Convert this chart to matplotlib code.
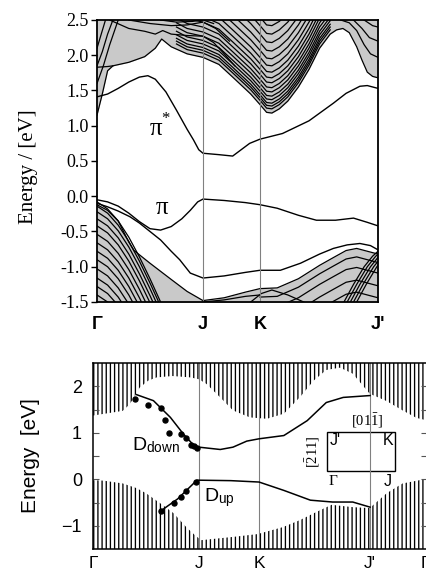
import numpy as np
import matplotlib
matplotlib.use("Agg")
import matplotlib.pyplot as plt
from matplotlib.patches import Rectangle

plt.rcParams['font.family'] = ['Liberation Sans', 'DejaVu Sans']
plt.rcParams['mathtext.fontset'] = 'custom'
plt.rcParams['mathtext.rm'] = 'Liberation Serif'
plt.rcParams['mathtext.it'] = 'Liberation Serif:italic'
plt.rcParams['mathtext.sf'] = 'Liberation Sans'
plt.rcParams['hatch.linewidth'] = 0.95
SERIF = ['Liberation Serif', 'DejaVu Serif']
GRAY = '#c9c9c9'

# ---------------- top panel: calculated bands ----------------
top_ticks = [0.0, 1.0, 1.538, 2.651]
top_labels = ['Γ', 'J', 'K', "J'"]

# lower edge of the upper projected continuum
k_bup = [0, 0.05, 0.1, 0.15, 0.3, 0.45, 0.55, 0.61, 0.7, 0.85, 1.0, 1.15, 1.28,
         1.45, 1.538, 1.6, 1.65, 1.72, 1.8, 1.9, 2.0, 2.1, 2.2, 2.26, 2.32, 2.38,
         2.45, 2.5, 2.55, 2.6, 2.651]
e_bup = [1.15, 1.45, 1.78, 1.85, 1.9, 1.98, 2.1, 2.23, 2.12, 2.02, 1.97, 1.87, 1.69,
         1.45, 1.3, 1.19, 1.18, 1.24, 1.35, 1.55, 1.8, 2.1, 2.3, 2.36, 2.38, 2.32,
         2.12, 1.93, 1.76, 1.7, 1.68]
# upper edge of the lower projected continuum
k_blo = [0, 0.1, 0.2, 0.3, 0.35, 0.5, 0.7, 0.85, 1.0, 1.2, 1.4, 1.538, 1.7, 1.9,
         2.1, 2.23, 2.35, 2.45, 2.55, 2.651]
e_blo = [-0.12, -0.2, -0.35, -0.65, -0.77, -0.95, -1.18, -1.35, -1.48, -1.44, -1.36,
         -1.31, -1.3, -1.17, -0.98, -0.87, -0.77, -0.74, -0.78, -0.82]

k_pistar = [0, 0.1, 0.2, 0.3, 0.4, 0.48, 0.55, 0.65, 0.75, 0.85, 0.91, 0.96, 1.0,
            1.15, 1.28, 1.44, 1.538, 1.75, 2.0, 2.23, 2.35, 2.48, 2.55, 2.651]
e_pistar = [1.41, 1.45, 1.53, 1.62, 1.69, 1.71, 1.66, 1.48, 1.22, 0.95, 0.8, 0.66, 0.61,
            0.59, 0.57, 0.75, 0.81, 0.89, 1.07, 1.32, 1.46, 1.56, 1.57, 1.53]
k_pi = [0, 0.1, 0.2, 0.3, 0.4, 0.5, 0.6, 0.7, 0.8, 0.88, 0.95, 1.0, 1.2, 1.4, 1.538,
        1.7, 1.9, 2.07, 2.25, 2.42, 2.55, 2.651]
e_pi = [-0.05, -0.08, -0.14, -0.24, -0.36, -0.46, -0.48, -0.43, -0.32, -0.2, -0.08,
        -0.04, -0.06, -0.09, -0.12, -0.17, -0.27, -0.34, -0.34, -0.31, -0.37, -0.42]
k_b2 = [0, 0.1, 0.2, 0.31, 0.4, 0.5, 0.6, 0.7, 0.78, 0.88, 1.0, 1.2, 1.4, 1.538,
        1.73, 1.92, 2.1, 2.23, 2.36, 2.48, 2.58, 2.651]
e_b2 = [-0.1, -0.15, -0.21, -0.29, -0.38, -0.5, -0.62, -0.78, -0.9, -1.09, -1.16,
        -1.13, -1.08, -1.05, -1.05, -0.95, -0.82, -0.74, -0.69, -0.67, -0.7, -0.76]

# band lines inside the continua
top_lines = [
    ([0, 0.06, 0.12, 0.2], [1.6, 1.85, 2.15, 2.5]),
    ([0, 0.05, 0.1, 0.15], [1.85, 2.05, 2.3, 2.5]),
    ([0, 0.04, 0.08], [2.1, 2.3, 2.5]),
    ([0, 0.1, 0.15], [1.83, 1.84, 1.85]),
    ([0.12, 0.3, 0.45, 0.55, 0.62, 0.7, 0.85, 1.0, 1.1, 1.2, 1.3],
     [2.5, 2.38, 2.34, 2.3, 2.35, 2.3, 2.28, 2.27, 2.18, 2.02, 1.85]),
    ([0.3, 0.5, 0.7, 0.85, 1.0, 1.12, 1.25],
     [2.5, 2.45, 2.42, 2.43, 2.47, 2.38, 2.2]),
    ([0.6, 0.75, 0.9, 1.0, 1.1], [2.5, 2.47, 2.48, 2.5, 2.45]),
    ([2.3, 2.38, 2.45, 2.52, 2.58, 2.651], [2.5, 2.46, 2.35, 2.15, 2.02, 1.97]),
    ([2.42, 2.5, 2.57, 2.651], [2.5, 2.38, 2.25, 2.2]),
    ([2.52, 2.6, 2.651], [2.5, 2.42, 2.4]),
    ([1.45, 1.55, 1.65, 1.8, 1.95], [-1.5, -1.38, -1.33, -1.4, -1.5]),
    ([1.0, 1.2, 1.4, 1.538], [-1.5, -1.47, -1.42, -1.4]),
]
# nested V-shaped bands around K (shifted copies of the continuum edge)
k_vee = [0.75, 0.85, 1.0, 1.15, 1.28, 1.45, 1.538, 1.6, 1.65, 1.72, 1.8, 1.9, 2.0, 2.1, 2.2]
e_vee = [2.1, 2.02, 1.97, 1.87, 1.69, 1.45, 1.3, 1.19, 1.18, 1.24, 1.35, 1.55, 1.8, 2.1, 2.3]
vee_shift = [0.06, 0.1, 0.14, 0.19, 0.24, 0.3, 0.36, 0.43, 0.5, 0.58, 0.67, 0.77, 0.88,
             1.0, 1.12, 1.24]
# steep bands falling from Gamma in the lower-left continuum
k_fall = [0, 0.1, 0.2, 0.3, 0.4, 0.5, 0.6]
e_fall = [-0.08, -0.18, -0.35, -0.58, -0.86, -1.17, -1.5]
fall_shift = [0, -0.06, -0.14, -0.24, -0.34, -0.46, -0.58, -0.7, -0.82, -0.95, -1.08,
              -1.2, -1.32]
# bands under the lower continuum edge right of K
low_shift = [-0.12, -0.27, -0.45, -0.62]
# steep bundle in the lower-right corner
k_rise = [2.33, 2.42, 2.52, 2.6, 2.651]
e_rise = [-1.5, -1.25, -1.0, -0.85, -0.78]
rise_shift = [0.0, 0.03, 0.06, 0.09, 0.12]

# ---------------- bottom panel: surface states ----------------
bot_ticks = [0.0, 1.0, 1.566, 2.613, 3.13]
bot_labels = ['Γ', 'J', 'K', "J'", 'Γ']

k_up_edge = [0, 0.28, 0.34, 0.38, 0.44, 0.52, 0.6, 0.75, 0.92, 1.0, 1.07, 1.2, 1.32,
             1.48, 1.64, 1.8, 1.95, 2.08, 2.2, 2.33, 2.45, 2.55, 2.61, 2.77, 2.92,
             3.05, 3.16]
e_up_edge = [1.37, 1.47, 1.6, 1.73, 1.97, 2.12, 2.19, 2.22, 2.19, 2.15, 2.05, 1.76,
             1.48, 1.33, 1.3, 1.41, 1.76, 2.12, 2.35, 2.4, 2.27, 2.0, 1.84, 1.68,
             1.48, 1.32, 1.26]
k_lo_edge = [0, 0.1, 0.28, 0.41, 0.5, 0.63, 0.76, 0.88, 0.96, 1.02, 1.32, 1.55, 1.79,
             1.95, 2.11, 2.25, 2.45, 2.61, 2.77, 2.92, 3.08, 3.16]
e_lo_edge = [-0.02, -0.03, -0.09, -0.19, -0.3, -0.51, -0.73, -1.03, -1.2, -1.31, -1.24,
             -1.18, -1.03, -0.88, -0.7, -0.55, -0.6, -0.62, -0.3, -0.09, -0.02, 0.0]

k_ddown = [0.41, 0.57, 0.73, 0.85, 0.95, 1.0, 1.2, 1.32, 1.45, 1.566, 1.8, 2.02, 2.2,
           2.36, 2.613]
e_ddown = [1.82, 1.69, 1.33, 0.98, 0.73, 0.69, 0.64, 0.69, 0.82, 0.87, 0.94, 1.26,
           1.65, 1.76, 1.8]
k_dup = [0.64, 0.8, 0.98, 1.0, 1.3, 1.566, 1.8, 2.05, 2.26, 2.45, 2.613]
e_dup = [-0.68, -0.42, -0.02, -0.02, -0.03, -0.06, -0.24, -0.45, -0.49, -0.49, -0.6]

k_dots_down = [0.40, 0.52, 0.64, 0.68, 0.72, 0.83, 0.88, 0.92, 0.95, 0.98]
e_dots_down = [1.73, 1.6, 1.54, 1.28, 0.99, 0.98, 0.88, 0.73, 0.71, 0.67]
k_dots_up = [0.64, 0.76, 0.83, 0.88, 0.97]
e_dots_up = [-0.68, -0.51, -0.38, -0.26, -0.06]

fig = plt.figure(figsize=(4.26, 5.73), dpi=100)

# ---- top axes ----
ax = fig.add_axes([97 / 426, 1 - 302 / 573, 281 / 426, 282 / 573])
ax.fill_between(k_bup, e_bup, 2.6, color=GRAY, lw=0)
ax.fill_between(k_blo, -1.6, e_blo, color=GRAY, lw=0)
lw = 0.9
for kk, ee in top_lines:
    ax.plot(kk, ee, color='k', lw=lw)
for d in vee_shift:
    ax.plot(k_vee, np.array(e_vee) + d, color='k', lw=lw)
for d in fall_shift:
    ax.plot(k_fall, np.array(e_fall) + d, color='k', lw=lw)
k_right = k_blo[11:]
for d in low_shift:
    ax.plot(k_right, np.array(e_blo[11:]) + d, color='k', lw=lw)
for d in rise_shift:
    ax.plot(np.array(k_rise) + d, e_rise, color='k', lw=lw)
ax.plot(k_bup, e_bup, color='k', lw=lw)
ax.plot(k_blo, e_blo, color='k', lw=lw)
ax.plot(k_pistar, e_pistar, color='k', lw=1.0)
ax.plot(k_pi, e_pi, color='k', lw=1.0)
ax.plot(k_b2, e_b2, color='k', lw=1.0)
for x in top_ticks[1:3]:
    ax.axvline(x, color='#808080', lw=0.8)
ax.text(0.56, 0.96, 'π', fontsize=18, ha='center', va='center', family=SERIF)
ax.text(0.645, 1.1, '*', fontsize=12, ha='center', va='center', family=SERIF)
ax.text(0.61, -0.16, 'π', fontsize=18, ha='center', va='center', family=SERIF)
ax.set_xlim(0, 2.651)
ax.set_ylim(-1.5, 2.5)
ax.set_xticks(top_ticks)
ax.set_xticklabels(top_labels, fontsize=13, fontweight='bold')
ax.set_yticks(np.arange(-1.5, 2.51, 0.5))
ax.set_yticklabels(['%.1f' % v for v in np.arange(-1.5, 2.51, 0.5)], fontsize=13,
                   family=SERIF)
ax.tick_params(axis='x', length=0, pad=10)
ax.tick_params(axis='y', direction='out', length=4, width=1, pad=2)
ax.set_ylabel('Energy / [eV]', fontsize=15, family=SERIF)
ax.yaxis.set_label_coords(-0.21, 0.48)
for s in ax.spines.values():
    s.set_linewidth(1.3)

# ---- bottom axes ----
bx = fig.add_axes([93 / 426, 1 - 549 / 573, 334 / 426, 186 / 573])
bx.fill_between(k_up_edge, e_up_edge, 2.6, facecolor='none', edgecolor='k',
                hatch='||||', lw=0)
bx.fill_between(k_lo_edge, -1.6, e_lo_edge, facecolor='none', edgecolor='k',
                hatch='||||', lw=0)
for x in bot_ticks[1:4]:
    bx.axvline(x, color='#808080', lw=0.8)
bx.plot(k_ddown, e_ddown, color='k', lw=1.1)
bx.plot(k_dup, e_dup, color='k', lw=1.1)
bx.plot(k_dots_down, e_dots_down, 'o', color='k', ms=3.6)
bx.plot(k_dots_up, e_dots_up, 'o', color='k', ms=3.6)
bx.text(0.37, 0.73, r'D$_{\mathsf{down}}$', fontsize=14, ha='left', va='center')
bx.text(1.05, -0.4, r'D$_{\mathsf{up}}$', fontsize=14, ha='left', va='center')

# orientation inset
bx.add_patch(Rectangle((2.21, 0.17), 0.64, 0.85, fill=False, ec='k', lw=1.0))
bx.text(2.585, 1.26, r'$[01\bar{1}]$', fontsize=10.5, ha='center', va='center')
bx.text(2.07, 0.6, r'$[\bar{2}11]$', fontsize=10.5, ha='center', va='center',
        rotation=90)
bx.text(2.28, 0.84, "J'", fontsize=11.5, ha='center', va='center')
bx.text(2.78, 0.84, 'K', fontsize=11.5, ha='center', va='center')
bx.text(2.26, -0.04, 'Γ', fontsize=11, ha='center', va='center', family=SERIF)
bx.text(2.78, -0.04, 'J', fontsize=11.5, ha='center', va='center')

bx.set_xlim(0, 3.15)
bx.set_ylim(-1.5, 2.5)
bx.set_xticks(bot_ticks)
bx.set_xticklabels(bot_labels, fontsize=12.5)
bx.set_yticks([-1, 0, 1, 2])
bx.set_yticklabels(['\u22121', '0', '1', '2'], fontsize=13)
bx.set_yticks([-0.5, 0.5, 1.5], minor=True)
bx.tick_params(axis='x', length=0, pad=5)
bx.tick_params(axis='y', which='both', direction='in', length=4, width=0.8,
               right=True, pad=8, color='#555555')
bx.set_ylabel('Energy  [eV]', fontsize=15)
bx.yaxis.set_label_coords(-0.16, 0.5)
for s in bx.spines.values():
    s.set_linewidth(1.1)

fig.savefig('out.png', dpi=100)
